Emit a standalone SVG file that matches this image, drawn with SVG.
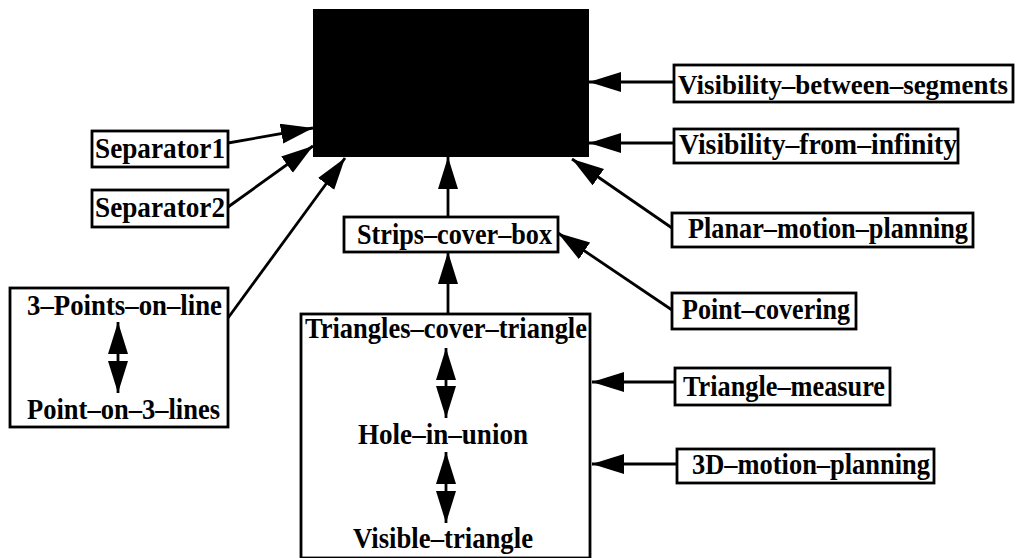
<svg xmlns="http://www.w3.org/2000/svg" width="1017" height="558" viewBox="0 0 1017 558">
<style>
.box{fill:#fff;stroke:#000;stroke-width:2.8}
.t{font-family:"Liberation Serif","Times New Roman",serif;font-weight:bold;font-size:28.5px;fill:#000}
.c{stroke:#000;stroke-width:2.8;fill:none;marker-end:url(#ah)}
.d{stroke:#000;stroke-width:2.8;fill:none;marker-end:url(#ah);marker-start:url(#ah2)}
</style>
<defs>
<marker id="ah" markerUnits="userSpaceOnUse" markerWidth="34" markerHeight="22" refX="32" refY="10" orient="auto"><path d="M0,0 L32,10 L0,20 z" fill="#000"/></marker>
<marker id="ah2" markerUnits="userSpaceOnUse" markerWidth="34" markerHeight="22" refX="32" refY="10" orient="auto-start-reverse"><path d="M0,0 L32,10 L0,20 z" fill="#000"/></marker>
</defs>
<g id="center"><rect x="313" y="9" width="276" height="148" fill="#000"/></g>
<g id="vis-between"><rect class="box" x="674" y="65" width="339" height="37"/><text class="t" x="678" y="94" style="font-size:27px" textLength="330" lengthAdjust="spacingAndGlyphs">Visibility–between–segments</text></g>
<g id="vis-infinity"><rect class="box" x="674" y="129" width="284" height="34"/><text class="t" x="679" y="154" textLength="278" lengthAdjust="spacingAndGlyphs">Visibility–from–infinity</text></g>
<g id="planar"><rect class="box" x="672" y="213" width="301" height="34"/><text class="t" x="688" y="238" textLength="280" lengthAdjust="spacingAndGlyphs">Planar–motion–planning</text></g>
<g id="point-covering"><rect class="box" x="672" y="293" width="184" height="36"/><text class="t" x="682" y="319" textLength="168" lengthAdjust="spacingAndGlyphs">Point–covering</text></g>
<g id="triangle-measure"><rect class="box" x="675" y="368" width="215" height="37"/><text class="t" x="683" y="396" textLength="202" lengthAdjust="spacingAndGlyphs">Triangle–measure</text></g>
<g id="motion3d"><rect class="box" x="677" y="449" width="257" height="34"/><text class="t" x="692" y="474" textLength="238" lengthAdjust="spacingAndGlyphs">3D–motion–planning</text></g>
<g id="strips"><rect class="box" x="344" y="217" width="214" height="35"/><text class="t" x="357" y="244" textLength="195" lengthAdjust="spacingAndGlyphs">Strips–cover–box</text></g>
<g id="triangles-group"><rect class="box" x="301" y="314" width="289" height="244"/>
<text class="t" x="305" y="338" textLength="282" lengthAdjust="spacingAndGlyphs">Triangles–cover–triangle</text>
<text class="t" x="358" y="444" textLength="170" lengthAdjust="spacingAndGlyphs">Hole–in–union</text>
<text class="t" x="353" y="548" textLength="180" lengthAdjust="spacingAndGlyphs">Visible–triangle</text>
<path class="d" d="M446,348 L446,418"/>
<path class="d" d="M446,452 L446,523"/></g>
<g id="separator1"><rect class="box" x="92" y="131" width="136" height="36"/><text class="t" x="95" y="158" textLength="130" lengthAdjust="spacingAndGlyphs">Separator1</text></g>
<g id="separator2"><rect class="box" x="92" y="190" width="136" height="37"/><text class="t" x="95" y="217" textLength="130" lengthAdjust="spacingAndGlyphs">Separator2</text></g>
<g id="points-group"><rect class="box" x="10" y="288" width="218" height="139"/>
<text class="t" x="27" y="315" textLength="195" lengthAdjust="spacingAndGlyphs">3–Points–on–line</text>
<text class="t" x="27" y="419" textLength="193" lengthAdjust="spacingAndGlyphs">Point–on–3–lines</text>
<path class="d" d="M118,322 L118,393"/></g>
<g id="connectors">
<path class="c" d="M674,82 L589,82"/>
<path class="c" d="M674,143 L589,143"/>
<path class="c" d="M672,228 L572,159"/>
<path class="c" d="M672,310 L558,233"/>
<path class="c" d="M675,382 L592,382"/>
<path class="c" d="M677,464 L592,464"/>
<path class="c" d="M448,217 L448,157"/>
<path class="c" d="M448,314 L448,252"/>
<path class="c" d="M228,143 L313,128"/>
<path class="c" d="M228,207 L313,146"/>
<path class="c" d="M228,318 L345,158"/>
</g>
</svg>
